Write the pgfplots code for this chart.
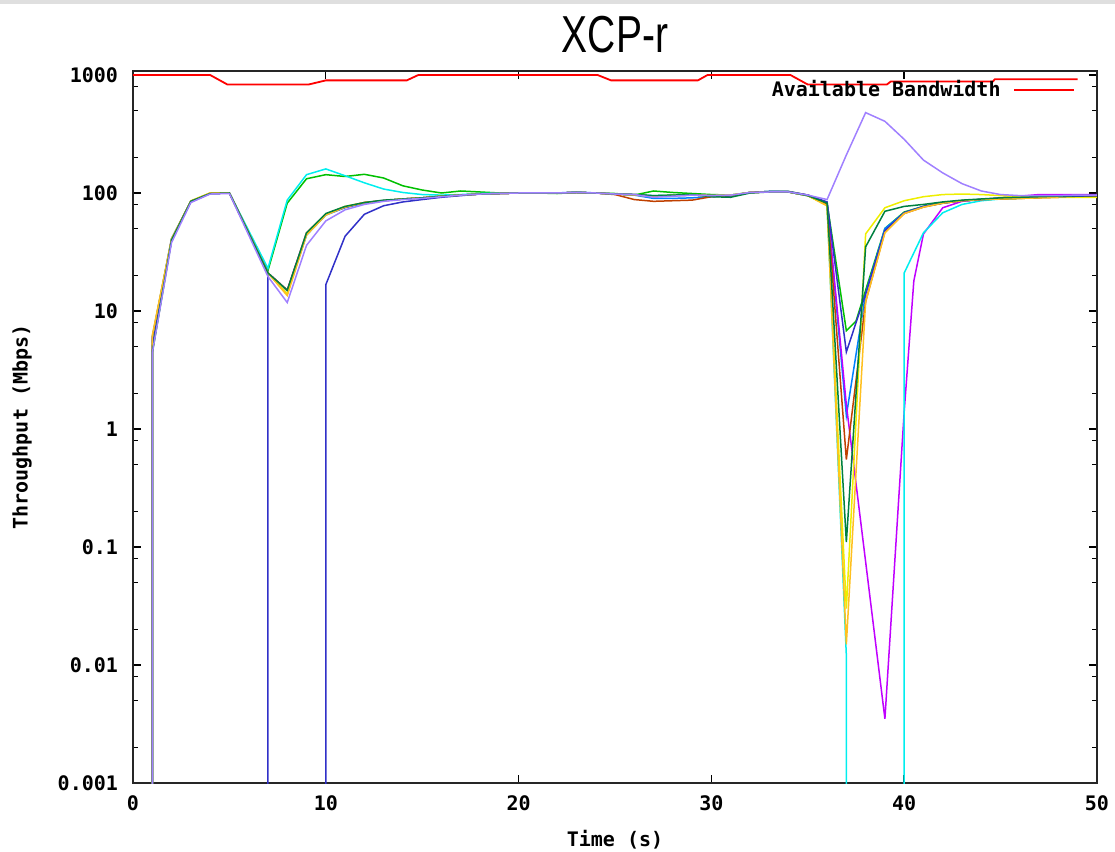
\documentclass[border=0pt]{standalone}
\usepackage{fontspec}
\setmainfont{Liberation Sans}
\newfontfamily\gpfont{DejaVu Sans Mono}
\usepackage{graphicx}
\usepackage{pgfplots}
\pgfplotsset{compat=1.18}

\definecolor{gpred}{HTML}{FF0000}
\definecolor{gpgreen}{HTML}{00C000}
\definecolor{gpblue}{HTML}{0080FF}
\definecolor{gpmagenta}{HTML}{C000FF}
\definecolor{gpcyan}{HTML}{00EEEE}
\definecolor{gpbrown}{HTML}{C04000}
\definecolor{gpyellow}{HTML}{EEEE00}
\definecolor{gpnavy}{HTML}{3030C8}
\definecolor{gporange}{HTML}{FFC020}
\definecolor{gpdkgreen}{HTML}{008040}
\definecolor{gplavender}{HTML}{A080FF}

\begin{document}
\begin{tikzpicture}
\path[use as bounding box] (-66.5pt,-34.5pt) rectangle (491pt,391.5pt);
\fill[gray!25] (-66.5pt,389.5pt) rectangle (491pt,391.5pt);
\begin{axis}[
  at={(0pt,0pt)}, anchor=south west,
  scale only axis, width=482pt, height=356pt,
  xmin=0, xmax=50, ymode=log, ymin=0.001, ymax=1081,
  xtick={0,10,20,30,40,50}, xticklabels={0,10,20,30,40,50},
  ytick={0.001,0.01,0.1,1,10,100,1000},
  yticklabels={0.001,0.01,0.1,1,10,100,1000},
  minor ytick={0.002,0.005,0.008,0.02,0.05,0.08,0.2,0.5,0.8,2,5,8,20,50,80,200,500,800},
  tick align=inside, tick pos=both,
  major tick length=4pt, minor tick length=2.5pt,
  every tick/.style={black, line width=0.7pt},
  axis line style={line width=1pt, black!85},
  ticklabel style={font=\gpfont\bfseries\fontsize{10}{11}\selectfont},
  xticklabel style={yshift=-3pt},
  yticklabel style={xshift=-4pt},
  xlabel={Time (s)}, ylabel={Throughput (Mbps)},
  every axis x label/.style={at={(axis description cs:0.5,0)}, yshift=-28.5pt, anchor=center},
  every axis y label/.style={at={(axis description cs:0,0.5)}, xshift=-55.5pt, rotate=90, anchor=center},
  label style={font=\gpfont\bfseries\fontsize{10}{11}\selectfont},
  legend plot pos=right,
  legend image code/.code={\draw[#1] (0pt,0pt) -- (30pt,0pt);},
  legend style={draw=none, fill=none, at={(axis description cs:0.978,0.973)}, anchor=east,
    font=\gpfont\bfseries\fontsize{10}{11}\selectfont, inner sep=0pt, column sep=3.5pt, nodes={inner sep=3pt}},
  no markers,
  every axis plot/.append style={line width=0.75pt},
]
% available bandwidth
\addplot[gpred, line width=0.9pt] coordinates {(0,1000)(4,1000)(4.9,830)(9.1,830)(10,900)(14.2,900)(14.8,1000)(24.1,1000)(24.8,900)(29.3,900)(29.8,1000)(34.1,1000)(35,830)(39.1,830)(39.3,880)(44.6,880)(44.7,920)(49,920)};
\addlegendentry{Available Bandwidth}

% flows
\addplot[gpgreen] coordinates {(1,0.0009)(1,4.4)(2,40)(3,84)(4,99)(5,100)(7,22)(8,82)(9,132)(10,143)(11,138)(12,144)(13,134)(14,115)(15,106)(16,100)(17,104)(18,102)(19,100)(20,100)(21,100)(22,99)(23,101)(24,100)(25,99)(26,96)(27,104)(28,101)(29,99)(30,97)(31,96)(32,101)(33,103)(34,103)(35,96)(36,82)(37,6.8)(37.5,8.2)(38,15)(39,50)(40,69)(41,77)(42,83)(43,86)(44,88)(45,89)(46,90)(47,92)(48,93)(49,94)(50,95)};

\addplot[gpblue] coordinates {(1,0.0009)(1,5.5)(2,40)(3,85)(4,99)(5,100)(7,21)(8,14)(9,44)(10,65)(11,75)(12,82)(13,86)(14,89)(15,91)(16,94)(17,96)(18,98)(19,99)(20,100)(21,100)(22,100)(23,102)(24,100)(25,98)(26,96)(27,90)(28,90)(29,91)(30,93)(31,95)(32,101)(33,103)(34,102)(35,95)(36,82)(37,1.3)(38,14)(39,50)(40,68)(41,77)(42,82)(43,86)(44,88)(45,90)(46,91)(47,92)(48,93)(49,94)(50,95)};

\addplot[gpmagenta] coordinates {(1,0.0009)(1,5.8)(2,41)(3,85)(4,99)(5,100)(7,21)(8,15)(9,46)(10,66)(11,76)(12,83)(13,86)(14,89)(15,91)(16,94)(17,96)(18,98)(19,99)(20,100)(21,100)(22,100)(23,101)(24,100)(25,98)(26,97)(27,94)(28,95)(29,96)(30,95)(31,95)(32,101)(33,102)(34,102)(35,96)(36,82)(37,1.6)(38,0.075)(39,0.0035)(40,1.4)(40.5,18)(41,45)(42,75)(43,85)(44,88)(45,91)(46,94)(47,97)(48,97)(49,97)(50,97)};

\addplot[gpcyan] coordinates {(1,0.0009)(1,6)(2,41)(3,85)(4,99)(5,100)(7,23)(8,87)(9,143)(10,160)(11,140)(12,122)(13,108)(14,101)(15,97)(16,96)(17,97)(18,99)(19,100)(20,100)(21,100)(22,100)(23,101)(24,100)(25,98)(26,97)(27,95)(28,96)(29,96)(30,95)(31,96)(32,101)(33,102)(34,102)(35,95)(36,80)(37,0.012)(37,0.0009)};
\addplot[gpcyan] coordinates {(40,0.0009)(40,21)(41,46)(42,68)(43,80)(44,86)(45,89)(46,91)(47,92)(48,93)(49,94)(50,95)};

\addplot[gpbrown] coordinates {(1,0.0009)(1,6)(2,40)(3,85)(4,99)(5,100)(7,21)(8,15)(9,45)(10,66)(11,76)(12,83)(13,86)(14,89)(15,91)(16,94)(17,96)(18,98)(19,99)(20,100)(21,100)(22,100)(23,101)(24,100)(25,97)(26,88)(27,85)(28,86)(29,87)(30,93)(31,95)(32,101)(33,102)(34,102)(35,95)(36,80)(37,0.55)(38,12)(39,47)(40,67)(41,76)(42,82)(43,86)(44,88)(45,89)(46,90)(47,91)(48,92)(49,93)(50,94)};

\addplot[gpyellow] coordinates {(1,0.0009)(1,5.2)(2,40)(3,86)(4,100)(5,100)(7,21)(8,14)(9,46)(10,66)(11,77)(12,83)(13,86)(14,89)(15,91)(16,94)(17,96)(18,98)(19,99)(20,100)(21,100)(22,100)(23,101)(24,100)(25,98)(26,97)(27,94)(28,96)(29,96)(30,95)(31,96)(32,101)(33,102)(34,102)(35,95)(36,78)(37,0.03)(38,45)(39,75)(40,86)(41,93)(42,97)(43,98)(44,97)(45,95)(46,93)(47,92)(48,92)(49,92)(50,92)};

\addplot[gpnavy] coordinates {(1,0.0009)(1,5)(2,40)(3,85)(4,99)(5,100)(7,21)(7,0.0009)};
\addplot[gpnavy] coordinates {(10,0.0009)(10,16.7)(11,43)(12,66)(13,78)(14,84)(15,88)(16,92)(17,95)(18,98)(19,99)(20,100)(21,100)(22,100)(23,101)(24,100)(25,98)(26,97)(27,94)(28,95)(29,96)(30,95)(31,95)(32,101)(33,103)(34,103)(35,96)(36,84)(37,4.5)(38,14)(39,48)(40,68)(41,77)(42,82)(43,86)(44,88)(45,90)(46,91)(47,92)(48,93)(49,94)(50,95)};

\addplot[gporange] coordinates {(1,0.0009)(1,6.2)(2,41)(3,85)(4,100)(5,100)(7,21)(8,13.5)(9,44)(10,65)(11,76)(12,83)(13,86)(14,89)(15,91)(16,94)(17,96)(18,98)(19,99)(20,100)(21,100)(22,100)(23,101)(24,100)(25,98)(26,96)(27,94)(28,95)(29,96)(30,95)(31,96)(32,101)(33,102)(34,102)(35,95)(36,78)(37,0.015)(38,12)(39,46)(40,67)(41,76)(42,82)(43,86)(44,88)(45,89)(46,90)(47,91)(48,92)};

\addplot[gpdkgreen] coordinates {(1,0.0009)(1,4.5)(2,40)(3,85)(4,99)(5,100)(7,21)(8,15)(9,46)(10,67)(11,77)(12,83)(13,87)(14,89)(15,91)(16,94)(17,96)(18,98)(19,99)(20,100)(21,100)(22,100)(23,101)(24,100)(25,98)(26,97)(27,95)(28,96)(29,97)(30,93)(31,92)(32,100)(33,102)(34,102)(35,95)(36,82)(37,0.11)(38,35)(39,70)(40,77)(41,80)(42,84)(43,87)(44,89)(45,91)(46,92)(47,93)(48,94)(49,95)(50,95)};

\addplot[gplavender] coordinates {(1,0.0009)(1,4.4)(2,38)(3,83)(4,98)(5,99)(7,19.6)(8,11.8)(9,36)(10,58)(11,72)(12,80)(13,85)(14,88)(15,90)(16,93)(17,96)(18,98)(19,99)(20,100)(21,100)(22,100)(23,101)(24,100)(25,98)(26,97)(27,92)(28,94)(29,96)(30,95)(31,96)(32,101)(33,102)(34,102)(35,96)(36,88)(37,210)(38,480)(39,405)(40,285)(41,190)(42,148)(43,120)(44,104)(45,97)(46,95)(47,95)(48,95)(49,96)(50,96)};
\end{axis}
\node at (241pt,374pt) {\scalebox{0.75}[1]{\fontsize{26}{28}\selectfont XCP-r}};
\end{tikzpicture}
\end{document}
